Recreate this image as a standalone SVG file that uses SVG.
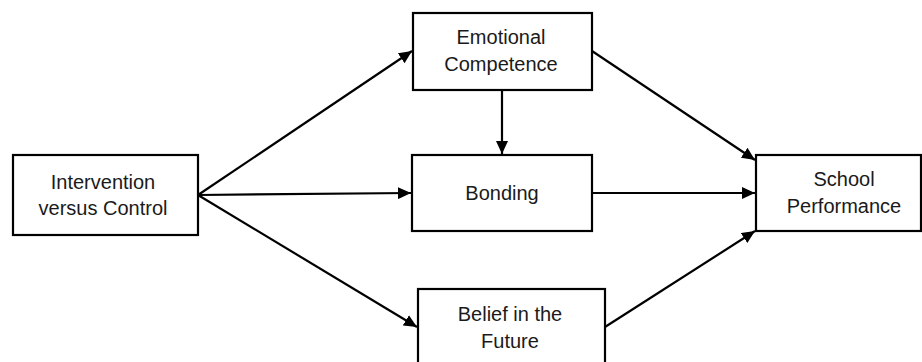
<svg xmlns="http://www.w3.org/2000/svg" width="922" height="362" viewBox="0 0 922 362">
<style>
.box{fill:#fff;stroke:#000;stroke-width:2.2}
.lbl{font-family:"Liberation Sans",Arial,sans-serif;font-size:20px;fill:#1a1a1a;text-anchor:middle}
.edge{stroke:#000;stroke-width:2.2;fill:none;marker-end:url(#ah)}
</style>
<defs>
<marker id="ah" markerUnits="userSpaceOnUse" markerWidth="14" markerHeight="12" refX="13" refY="6" orient="auto">
<path d="M0,0 L13,6 L0,12 Z" fill="#000"/>
</marker>
</defs>
<rect width="922" height="362" fill="#fff"/>
<g id="connectors">
<line class="edge" x1="198" y1="195" x2="412" y2="51"/>
<line class="edge" x1="198" y1="195" x2="411" y2="193"/>
<line class="edge" x1="198" y1="195" x2="417" y2="327"/>
<line class="edge" x1="502" y1="90" x2="502" y2="154"/>
<line class="edge" x1="592" y1="51" x2="755" y2="160"/>
<line class="edge" x1="592" y1="193" x2="755" y2="193"/>
<line class="edge" x1="605" y1="327" x2="755" y2="231"/>
</g>
<g id="intervention">
<rect class="box" x="13" y="155" width="185" height="80"/>
<text class="lbl" x="103" y="189">Intervention</text>
<text class="lbl" x="103" y="215">versus Control</text>
</g>
<g id="emotional">
<rect class="box" x="413" y="13" width="179" height="77"/>
<text class="lbl" x="501" y="44">Emotional</text>
<text class="lbl" x="501" y="71">Competence</text>
</g>
<g id="bonding">
<rect class="box" x="412" y="155" width="180" height="76"/>
<text class="lbl" x="502" y="200">Bonding</text>
</g>
<g id="belief">
<rect class="box" x="418" y="289" width="187" height="80"/>
<text class="lbl" x="510" y="321">Belief in the</text>
<text class="lbl" x="510" y="348">Future</text>
</g>
<g id="school">
<rect class="box" x="756" y="155" width="165" height="76"/>
<text class="lbl" x="844" y="186">School</text>
<text class="lbl" x="844" y="213">Performance</text>
</g>
</svg>
